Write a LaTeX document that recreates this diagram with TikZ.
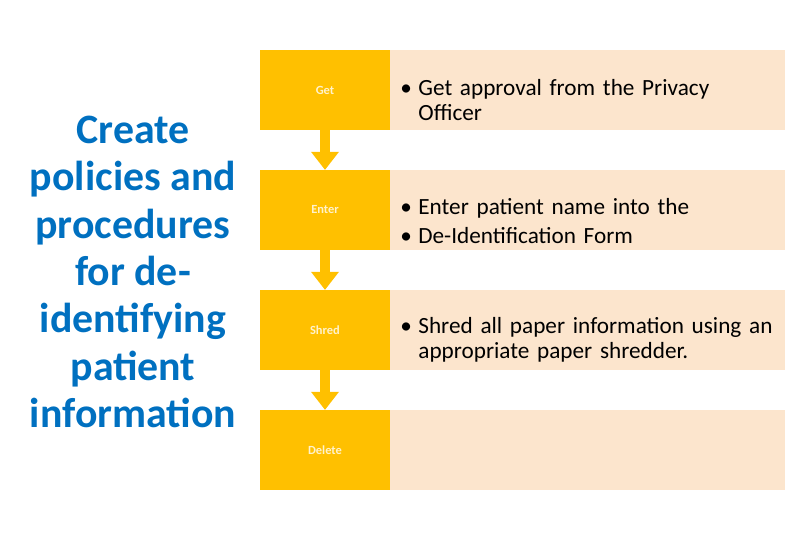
\documentclass[tikz,border=0pt]{standalone}
\usepackage{fontspec}
\setmainfont{Carlito}
\usepackage{xcolor}
\usepackage{tikz}
\usetikzlibrary{arrows.meta,positioning}
\definecolor{Gold}{HTML}{FFC000}
\definecolor{GoldText}{HTML}{FFF2CC}
\definecolor{Peach}{HTML}{FCE5CD}
\definecolor{TitleBlue}{HTML}{0070C0}

\newcommand{\bulletline}[1]{\hyphenpenalty=10000\relax\hangindent=18bp\hangafter=1\noindent\makebox[18bp][l]{\textbullet}#1\par}

\begin{document}
\begin{tikzpicture}[
  x=1bp,y=-1bp,
  stepbox/.style={fill=Gold,minimum width=130bp,minimum height=80bp,inner sep=0pt,font=\fontsize{12.5}{14}\selectfont\bfseries\color{GoldText}},
  infobox/.style={fill=Peach,minimum width=395bp,minimum height=80bp,inner sep=0pt},
  infotext/.style={text width=375bp,inner sep=0pt,align=left,font=\fontsize{23.3}{25}\selectfont},
  flow/.style={-{Triangle[width=28bp,length=18bp,line width=0pt]},line width=10bp,draw=Gold},
  title/.style={align=center,inner sep=0pt,text=TitleBlue,font=\fontsize{42}{47.5}\selectfont\bfseries}
]
  \useasboundingbox (0,0) rectangle (810,540);
  \node[title] (aim) at (133,272) {Create\\policies and\\procedures\\for de-\\identifying\\patient\\information};

  \node[stepbox] (get) at (325,90) {Get};
  \node[stepbox] (enter) at (325,210) {Enter};
  \node[stepbox] (shred) at (325,330) {Shred};
  \node[stepbox] (delete) at (325,450) {Delete};

  \node[infobox,right=0pt of get] (getinfo) {};
  \node[infobox,right=0pt of enter] (enterinfo) {};
  \node[infobox,right=0pt of shred] (shredinfo) {};
  \node[infobox,right=0pt of delete] (deleteinfo) {};

  \node[infotext] (gettext) at ([yshift=-10bp]getinfo.center) {\bulletline{Get approval from the Privacy Officer}};
  \node[infotext] (entertext) at ([yshift=-11bp]enterinfo.center) {\bulletline{Enter patient name into the}\vspace{4bp}\bulletline{De-Identification Form}};
  \node[infotext] (shredtext) at ([yshift=-10bp]shredinfo.center) {\bulletline{Shred all paper information using an appropriate paper shredder.}};

  \draw[flow] (get) -- (enter);
  \draw[flow] (enter) -- (shred);
  \draw[flow] (shred) -- (delete);
\end{tikzpicture}
\end{document}
